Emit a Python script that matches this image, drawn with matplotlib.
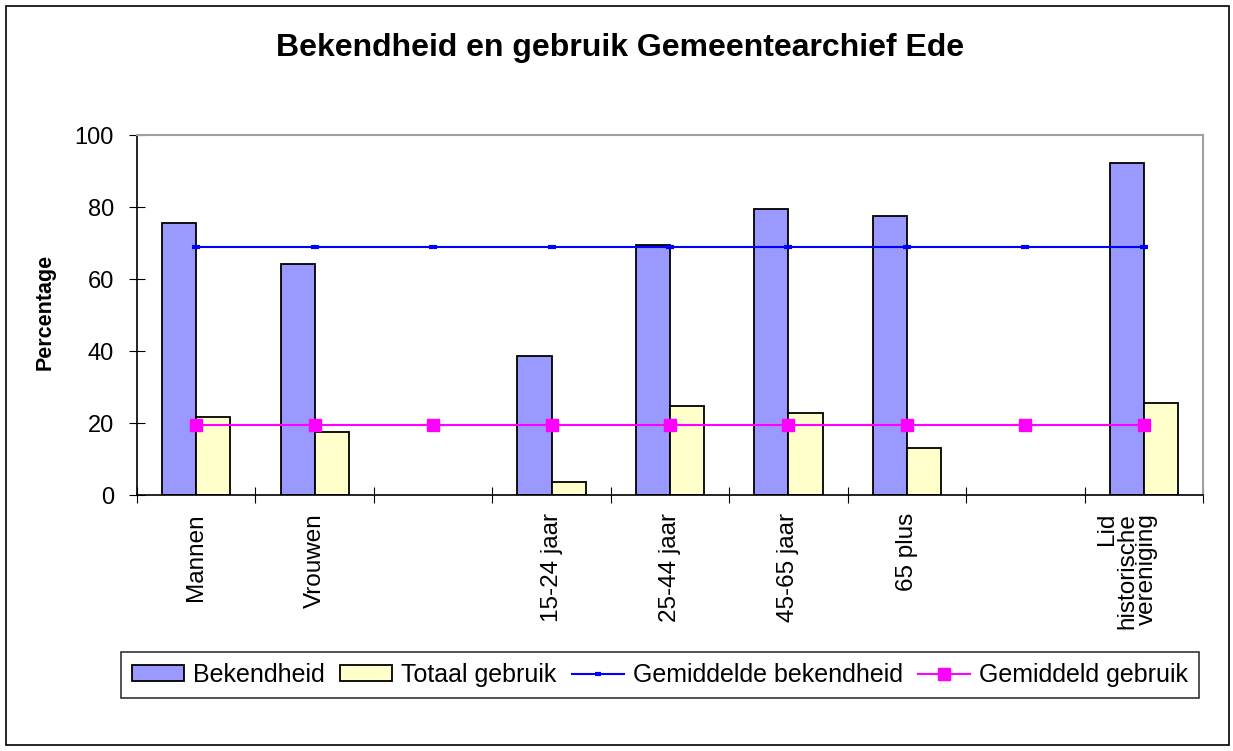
import matplotlib
matplotlib.use("Agg")
import matplotlib.pyplot as plt
import numpy as np
from matplotlib.patches import Rectangle
from matplotlib.lines import Line2D

plt.rcParams["font.family"] = ["Liberation Sans", "DejaVu Sans"]

categories = ["Mannen", "Vrouwen", "", "15-24 jaar", "25-44 jaar", "45-65 jaar",
              "65 plus", "", "Lid\nhistorische\nvereniging"]
bekendheid = [75.5, 64.3, np.nan, 38.7, 69.4, 79.4, 77.6, np.nan, 92.1]
totaal_gebruik = [21.6, 17.6, np.nan, 3.7, 24.8, 22.7, 13.1, np.nan, 25.5]
gem_bekendheid = [68.8] * 9
gem_gebruik = [19.4] * 9

W, H = 1233, 751
fig = plt.figure(figsize=(W / 100, H / 100), dpi=100)
ax = fig.add_axes([137 / W, 1 - 495 / H, (1203 - 137) / W, (495 - 135) / H])

x = np.arange(len(categories))
bw = 0.288
ax.bar(x - bw / 2, bekendheid, bw, color="#9999FF", edgecolor="black", lw=1.3, zorder=2)
ax.bar(x + bw / 2, totaal_gebruik, bw, color="#FFFFCC", edgecolor="black", lw=1.3, zorder=2)
ax.plot(x, gem_bekendheid, "-", color="#0000FF", lw=1.5, marker="_", ms=6, mew=3, zorder=3)
ax.plot(x, gem_gebruik, "-", color="#FF00FF", lw=1.5, marker="s", ms=8.5, zorder=3)

ax.set_xlim(-0.5, len(categories) - 0.5)
ax.set_ylim(0, 100)
ax.set_yticks(range(0, 101, 20))
ax.tick_params(axis="y", direction="inout", length=11, labelsize=17, pad=11)
ax.set_xticks(np.arange(len(categories) + 1) - 0.5)
ax.set_xticklabels([])
ax.tick_params(axis="x", direction="inout", length=11.5)
for i, c in enumerate(categories):
    n = c.count("\n")
    ax.annotate(c, (i, 0), xycoords=("data", "axes fraction"), xytext=(-6 * n, -13),
                textcoords="offset points", rotation=90, ha="center", va="top",
                multialignment="right", fontsize=17.5, linespacing=0.88)
for s in ("top", "right"):
    ax.spines[s].set_color("#a0a0a0")
    ax.spines[s].set_linewidth(1.5)
for s in ("left", "bottom"):
    ax.spines[s].set_linewidth(1.2)

fig.text(45 / W, 1 - 312 / H, "Percentage", rotation=90, ha="center", va="center",
         fontsize=15.5, fontweight="bold")
fig.text(620 / W, 1 - 48 / H, "Bekendheid en gebruik Gemeentearchief Ede",
         ha="center", va="center", fontsize=23, fontweight="bold")

handles = [
    Rectangle((0, 0), 1, 1, facecolor="#9999FF", edgecolor="black", lw=1.3),
    Rectangle((0, 0), 1, 1, facecolor="#FFFFCC", edgecolor="black", lw=1.3),
    Line2D([], [], color="#0000FF", lw=1.5, marker="_", ms=5, mew=3),
    Line2D([], [], color="#FF00FF", lw=1.5, marker="s", ms=8),
]
labels = ["Bekendheid", "Totaal gebruik", "Gemiddelde bekendheid", "Gemiddeld gebruik"]
leg = fig.legend(handles, labels, loc="center", bbox_to_anchor=(660 / W, 1 - 675 / H),
                 ncol=4, fontsize=18, frameon=True, fancybox=False, handlelength=2.1,
                 handleheight=0.6, handletextpad=0.35, columnspacing=0.6,
                 borderpad=0.45, borderaxespad=0, edgecolor="black")
leg.get_frame().set_linewidth(1.2)

fig.patches.append(Rectangle((6 / W, 6 / H), (1229 - 6) / W, (745 - 6) / H,
                             transform=fig.transFigure, fill=False, edgecolor="black", lw=1.2))

fig.savefig("out.png", dpi=100)
